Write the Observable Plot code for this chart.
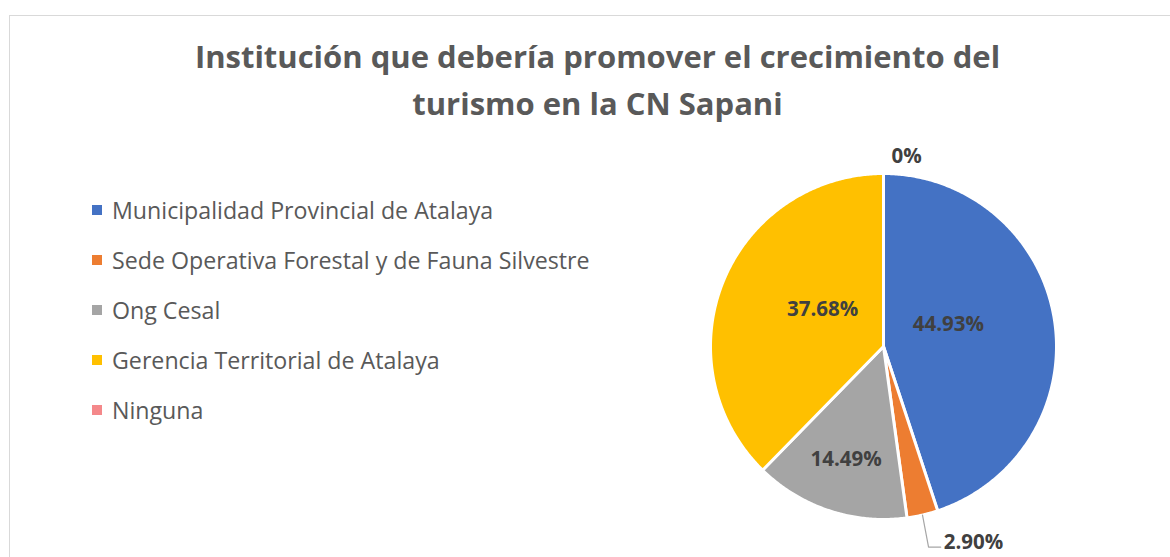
<!DOCTYPE html>
<html><head><meta charset="utf-8">
<script src="https://cdn.jsdelivr.net/npm/d3@7"></script>
<script src="https://cdn.jsdelivr.net/npm/@observablehq/plot@0.6"></script>
<style>
body{margin:0;background:#fff;}
#frame{position:relative;width:1170px;height:557px;overflow:hidden;font-family:"Open Sans",sans-serif;background:#fff;}
#border{position:absolute;left:9px;top:15px;width:1200px;height:600px;border:1.5px solid #d9d9d9;}
#title{position:absolute;left:0;top:33px;width:1195px;text-align:center;font-weight:700;font-size:31px;line-height:47px;color:#595959;}
#legend{position:absolute;left:92px;top:185px;font-size:23.2px;line-height:50px;color:#595959;}
.item{display:flex;align-items:center;height:50px;white-space:nowrap;}
.sw{width:10px;height:10px;margin-right:10px;flex:none;}
#chart{position:absolute;left:683px;top:140px;}
</style></head><body>
<div id="frame">
<div id="border"></div>
<div id="title">Institución que debería promover el crecimiento del<br>turismo en la CN Sapani</div>
<div id="legend"></div>
<div id="chart"></div>
</div>
<script>
const categories = ["Municipalidad Provincial de Atalaya","Sede Operativa Forestal y de Fauna Silvestre","Ong Cesal","Gerencia Territorial de Atalaya","Ninguna"];
const values = [44.93, 2.90, 14.49, 37.68, 0];
const colors = ["#4472C4","#ED7D31","#A5A5A5","#FFC000","#F4888A"];

const legend = document.getElementById("legend");
categories.forEach((c,i)=>{
  const it = document.createElement("div"); it.className="item";
  const sw = document.createElement("span"); sw.className="sw"; sw.style.background=colors[i];
  const t = document.createElement("span"); t.textContent=c;
  it.appendChild(sw); it.appendChild(t); legend.appendChild(it);
});

const total = d3.sum(values);
let acc = 0;
const slices = categories.map((name,i)=>{
  const a0 = acc/total*2*Math.PI; acc += values[i]; const a1 = acc/total*2*Math.PI;
  return {name, value: values[i], a0, a1, mid:(a0+a1)/2};
});
const polar = (a, r) => ({x: r*Math.sin(a), y: r*Math.cos(a)});
const pts = slices.flatMap(s => {
  const n = Math.max(2, Math.ceil((s.a1-s.a0)/(Math.PI/360)));
  const arc = d3.range(n+1).map(k => polar(s.a0 + (s.a1-s.a0)*k/n, 1));
  return [{x:0,y:0}, ...arc, {x:0,y:0}].map(p => ({...p, name:s.name}));
});
const fmt = v => v === 0 ? "0%" : v.toFixed(2) + "%";
const big = slices.filter(s => s.value >= 20).map(s => ({...polar(s.mid, 0.38), label: fmt(s.value)}));
const mid = slices.filter(s => s.value >= 5 && s.value < 20).map(s => ({...polar(s.mid, 0.69), label: fmt(s.value)}));
const small = slices.filter(s => s.value > 0 && s.value < 5);
const leaders = small.flatMap(s => {
  const p0 = polar(s.mid, 1.0);
  const p1 = {x: p0.x + 0.035, y: -1.16};
  const p2 = {x: p1.x + 0.07, y: -1.16};
  return [p0, p1, p2].map(p => ({...p, name: s.name, label: fmt(s.value)}));
});
const smallLabels = small.map(s => { const p0 = polar(s.mid, 1.0); return {x: p0.x + 0.105, y: -1.16, label: fmt(s.value)}; });
const zeroLabels = slices.filter(s => s.value === 0).map(s => ({...polar(s.mid, 1.1), label: fmt(s.value)}));

const labelStyle = {x: "x", y: "y", text: "label", fill: "#404040", fontSize: 20.5, fontWeight: "bold"};
const plot = Plot.plot({
  width: 420, height: 417,
  marginLeft: 27, marginRight: 47, marginTop: 33, marginBottom: 38,
  x: {domain: [-1, 1], axis: null},
  y: {domain: [-1, 1], axis: null},
  color: {domain: categories, range: colors},
  style: {fontFamily: "Open Sans", background: "transparent", overflow: "visible"},
  marks: [
    Plot.line(pts, {x: "x", y: "y", z: "name", fill: "name", stroke: "white", strokeWidth: 3, strokeLinejoin: "round", curve: "linear"}),
    Plot.line(leaders, {x: "x", y: "y", z: "name", stroke: "#a6a6a6", strokeWidth: 1.2}),
    Plot.text(big, {...labelStyle, dy: -12}),
    Plot.text(mid, labelStyle),
    Plot.text(smallLabels, {...labelStyle, textAnchor: "start", dx: 3, dy: -5}),
    Plot.text(zeroLabels, {...labelStyle, textAnchor: "start", dx: 8})
  ]
});
document.getElementById("chart").appendChild(plot);
</script>
</body></html>
